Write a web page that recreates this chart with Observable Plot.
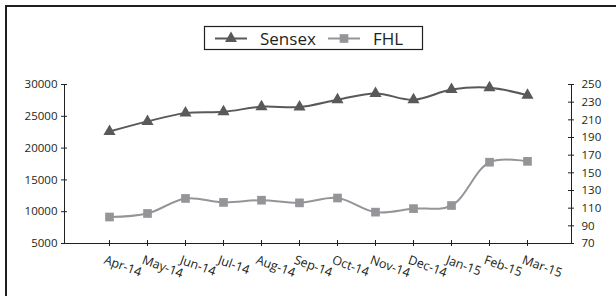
<!DOCTYPE html>
<html>
<head>
<meta charset="utf-8">
<script src="https://cdn.jsdelivr.net/npm/d3@7"></script>
<script src="https://cdn.jsdelivr.net/npm/@observablehq/plot@0.6"></script>
<style>
  html, body { margin: 0; padding: 0; background: #fff; }
  #wrap { position: relative; width: 616px; height: 296px; overflow: hidden; font-family: "Open Sans", sans-serif; }
  #wrap > svg.plot { position: absolute; left: 0; top: 0; }
  #border { position: absolute; left: 5px; top: 5px; width: 700px; height: 400px; border-top: 2px solid #231f20; border-left: 2px solid #231f20; pointer-events: none; }
  #legend { position: absolute; left: 0; top: 0; }
</style>
</head>
<body>
<div id="wrap"><div id="border"></div></div>
<script>
// ---- data ----
const months = ["Apr-14","May-14","Jun-14","Jul-14","Aug-14","Sep-14","Oct-14","Nov-14","Dec-14","Jan-15","Feb-15","Mar-15"];
const sensex = [22600, 24200, 25500, 25700, 26500, 26450, 27600, 28600, 27600, 29200, 29500, 28300];
const fhl = [100, 104, 121, 116.5, 119, 116, 121.5, 105.5, 109.5, 113, 162, 163];
const seriesNames = ["Sensex", "FHL"];
const leftTicks = [5000, 10000, 15000, 20000, 25000, 30000];
const rightTicks = [70, 90, 110, 130, 150, 170, 190, 210, 230, 250];

// ---- layout ----
const W = 616, H = 296;
const mL = 64, mR = 45, mT = 84, mB = 53;
const PW = W - mL - mR, PH = H - mT - mB;
const cSensex = "#58595b", cFhl = "#939598";

// right axis (FHL) mapped onto the left scale
const lMin = 5000, lMax = 30000, rMin = 70, rMax = 250;
const toLeft = v => lMin + (v - rMin) / (rMax - rMin) * (lMax - lMin);
const fromLeft = v => rMin + (v - lMin) / (lMax - lMin) * (rMax - rMin);

const sData = months.map((m, i) => ({m, v: sensex[i]}));
const fData = months.map((m, i) => ({m, v: toLeft(fhl[i])}));

const chart = Plot.plot({
  width: W, height: H,
  marginLeft: mL, marginRight: mR, marginTop: mT, marginBottom: mB,
  x: {type: "point", domain: months, padding: 1.06, axis: null, label: null},
  y: {domain: [lMin, lMax], axis: null, label: null},
  style: {fontFamily: "'Open Sans', sans-serif", fontSize: "11.5px", color: "#231f20", background: "transparent"},
  marks: [
    Plot.frame({anchor: "left", stroke: "#231f20"}),
    Plot.frame({anchor: "right", stroke: "#231f20"}),
    Plot.frame({anchor: "bottom", stroke: "#231f20"}),
    // left axis
    Plot.axisY(leftTicks, {anchor: "left", label: null, tickSize: 0, tickPadding: 7, tickFormat: d => String(d), fill: "#231f20"}),
    Plot.tickY(leftTicks, {y: d => d, insetRight: PW - 6, dx: -3, stroke: "#231f20"}),
    // right axis
    Plot.axisY(rightTicks.map(toLeft), {anchor: "right", label: null, tickSize: 0, tickPadding: 10, tickFormat: d => String(Math.round(fromLeft(d))), fill: "#231f20"}),
    Plot.tickY(rightTicks.map(toLeft), {y: d => d, insetLeft: PW - 6, dx: 3, stroke: "#231f20"}),
    // x axis
    Plot.tickX(months, {x: d => d, insetTop: PH - 6, dy: 3, stroke: "#231f20"}),
    Plot.text(months, {x: d => d, frameAnchor: "bottom", rotate: 20, textAnchor: "start", lineAnchor: "middle", dx: -5, dy: 16, fontSize: 12.5, fill: "#231f20"}),
    // series
    Plot.line(sData, {x: "m", y: "v", stroke: cSensex, strokeWidth: 2, curve: "catmull-rom"}),
    Plot.line(fData, {x: "m", y: "v", stroke: cFhl, strokeWidth: 2, curve: "catmull-rom"}),
    Plot.dot(sData, {x: "m", y: "v", symbol: "triangle", r: 4.5, fill: cSensex, stroke: "none"}),
    Plot.dot(fData, {x: "m", y: "v", symbol: "square", r: 4.9, fill: cFhl, stroke: "none"})
  ]
});
chart.classList.add("plot");
document.getElementById("wrap").appendChild(chart);

// ---- legend ----
const ns = "http://www.w3.org/2000/svg";
const leg = document.createElementNS(ns, "svg");
leg.setAttribute("id", "legend");
leg.setAttribute("width", W); leg.setAttribute("height", 60);
const items = [
  {name: seriesNames[0], color: cSensex, sym: d3.symbolTriangle, size: 62, x0: 215},
  {name: seriesNames[1], color: cFhl, sym: d3.symbolSquare, size: 75, x0: 328}
];
const box = document.createElementNS(ns, "rect");
box.setAttribute("x", 204.5); box.setAttribute("y", 26.5);
box.setAttribute("width", 218); box.setAttribute("height", 23);
box.setAttribute("fill", "#fff"); box.setAttribute("stroke", "#231f20"); box.setAttribute("stroke-width", 1.2);
leg.appendChild(box);
const cy = 38.5;
items.forEach(it => {
  const ln = document.createElementNS(ns, "line");
  ln.setAttribute("x1", it.x0); ln.setAttribute("x2", it.x0 + 32);
  ln.setAttribute("y1", cy); ln.setAttribute("y2", cy);
  ln.setAttribute("stroke", it.color); ln.setAttribute("stroke-width", 2);
  leg.appendChild(ln);
  const p = document.createElementNS(ns, "path");
  p.setAttribute("d", d3.symbol(it.sym, it.size)());
  p.setAttribute("transform", `translate(${it.x0 + 16},${cy})`);
  p.setAttribute("fill", it.color);
  leg.appendChild(p);
  const t = document.createElementNS(ns, "text");
  t.setAttribute("x", it.x0 + 45); t.setAttribute("y", cy);
  t.setAttribute("dy", "0.36em");
  t.setAttribute("font-size", 17);
  t.setAttribute("font-family", "'Open Sans', sans-serif");
  t.setAttribute("fill", "#231f20");
  t.textContent = it.name;
  leg.appendChild(t);
});
document.getElementById("wrap").appendChild(leg);
</script>
</body>
</html>
